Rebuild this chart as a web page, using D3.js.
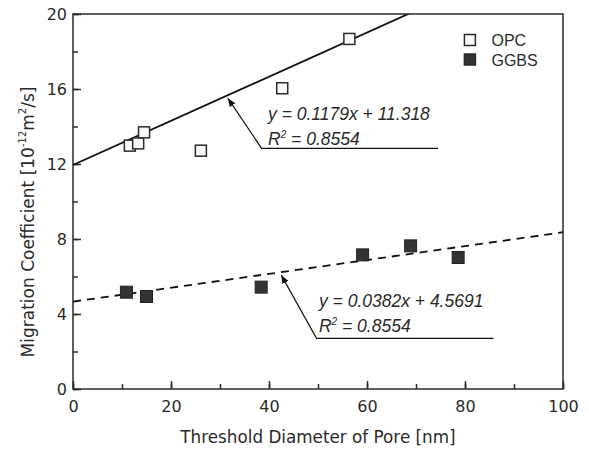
<!DOCTYPE html>
<html>
<head>
<meta charset="utf-8">
<script src="https://cdn.jsdelivr.net/npm/d3@7"></script>
<style>
  body { margin: 0; background: #fff; }
  svg { display: block; }
</style>
</head>
<body>
<div id="wrapper"></div>
<script>
// data
let opcDiameter = [11.6, 13.3, 14.5, 26.1, 42.7, 56.4];
let opcCoefficient = [12.98, 13.1, 13.69, 12.71, 16.04, 18.67];
let ggbsDiameter = [10.8, 14.9, 38.3, 59.0, 68.8, 78.5];
let ggbsCoefficient = [5.19, 4.96, 5.46, 7.18, 7.66, 7.04];

// fitted lines as drawn: [intercept, slope]
let opcFit = [11.95, 0.1177];
let ggbsFit = [4.66, 0.037];

let xTicks = [0, 20, 40, 60, 80, 100];
let yTicks = [0, 4, 8, 12, 16, 20];
let seriesNames = ["OPC", "GGBS"];
let opcLabels = ["y = 0.1179x + 11.318", "0.8554"];
let ggbsLabels = ["y = 0.0382x + 4.5691", "0.8554"];

let dimensions = {
  width: 589,
  height: 455,
  margin: { top: 14, right: 26, bottom: 66, left: 73 }
};

function drawChart() {
  dimensions.boundedWidth =
    dimensions.width - dimensions.margin.left - dimensions.margin.right;
  dimensions.boundedHeight =
    dimensions.height - dimensions.margin.top - dimensions.margin.bottom;

  let ink = "#2a2a2a";

  let wrapper = d3
    .select("#wrapper")
    .append("svg")
    .attr("width", dimensions.width)
    .attr("height", dimensions.height);

  let bounds = wrapper
    .append("g")
    .attr(
      "transform",
      `translate(${dimensions.margin.left}, ${dimensions.margin.top})`
    );

  let xScale = d3
    .scaleLinear()
    .domain([0, 100])
    .range([0, dimensions.boundedWidth]);

  let yScale = d3
    .scaleLinear()
    .domain([0, 20])
    .range([dimensions.boundedHeight, 0]);

  // clip for fit lines
  wrapper
    .append("defs")
    .append("clipPath")
    .attr("id", "plotClip")
    .append("rect")
    .attr("width", dimensions.boundedWidth)
    .attr("height", dimensions.boundedHeight);

  // minor ticks (inward)
  let xAxisGenerator = d3
    .axisBottom(xScale)
    .tickValues(d3.range(0, 101, 10))
    .tickSize(-5)
    .tickFormat("");
  bounds
    .append("g")
    .attr("transform", `translate(0, ${dimensions.boundedHeight})`)
    .call(xAxisGenerator)
    .call(g => g.select(".domain").remove());

  let yMinorGenerator = d3
    .axisLeft(yScale)
    .tickValues(d3.range(0, 21, 2))
    .tickSize(-5)
    .tickFormat("");
  bounds
    .append("g")
    .call(yMinorGenerator)
    .call(g => g.select(".domain").remove());

  // major ticks with labels
  let xMajor = bounds
    .append("g")
    .attr("transform", `translate(0, ${dimensions.boundedHeight})`)
    .call(
      d3.axisBottom(xScale).tickValues(xTicks).tickSize(-8).tickPadding(10)
    )
    .call(g => g.select(".domain").remove());

  let yMajor = bounds
    .append("g")
    .call(
      d3.axisLeft(yScale).tickValues(yTicks).tickSize(-8).tickPadding(10)
    )
    .call(g => g.select(".domain").remove());

  [xMajor, yMajor].forEach(axis => {
    axis
      .selectAll("text")
      .attr("font-family", "DejaVu Sans")
      .attr("font-size", 16)
      .attr("fill", ink);
  });
  yMajor.selectAll("text").attr("dy", "0.36em").attr("x", -6);
  xMajor.selectAll("text").attr("y", 12);

  bounds.selectAll(".tick line").attr("stroke", ink).attr("stroke-width", 1.5);

  // frame
  bounds
    .append("rect")
    .attr("width", dimensions.boundedWidth)
    .attr("height", dimensions.boundedHeight)
    .attr("fill", "none")
    .attr("stroke", ink)
    .attr("stroke-width", 1.5);

  // fit lines
  let lineGen = d3
    .line()
    .x(d => xScale(d[0]))
    .y(d => yScale(d[1]));

  let fitPoints = fit => [
    [0, fit[0]],
    [100, fit[0] + fit[1] * 100]
  ];

  let fits = bounds.append("g").attr("clip-path", "url(#plotClip)");
  fits
    .append("path")
    .attr("d", lineGen(fitPoints(opcFit)))
    .attr("stroke", "#111")
    .attr("stroke-width", 1.8)
    .attr("fill", "none");
  fits
    .append("path")
    .attr("d", lineGen(fitPoints(ggbsFit)))
    .attr("stroke", "#111")
    .attr("stroke-width", 1.8)
    .attr("stroke-dasharray", "8,6")
    .attr("fill", "none");

  // points
  let size = 11;
  bounds
    .append("g")
    .selectAll("rect")
    .data(d3.zip(opcDiameter, opcCoefficient))
    .join("rect")
    .attr("x", d => xScale(d[0]) - size / 2)
    .attr("y", d => yScale(d[1]) - size / 2)
    .attr("width", size)
    .attr("height", size)
    .attr("fill", "#fafafa")
    .attr("stroke", ink)
    .attr("stroke-width", 1.5);

  bounds
    .append("g")
    .selectAll("rect")
    .data(d3.zip(ggbsDiameter, ggbsCoefficient))
    .join("rect")
    .attr("x", d => xScale(d[0]) - size / 2)
    .attr("y", d => yScale(d[1]) - size / 2)
    .attr("width", size + 1)
    .attr("height", size + 1)
    .attr("fill", "#333")
    .attr("stroke", "#222")
    .attr("stroke-width", 1);

  // annotations with leader + arrow
  wrapper
    .append("defs")
    .append("marker")
    .attr("id", "arrowHead")
    .attr("viewBox", "0 0 10 10")
    .attr("refX", 10)
    .attr("refY", 5)
    .attr("markerWidth", 7)
    .attr("markerHeight", 7)
    .attr("orient", "auto")
    .append("path")
    .attr("d", "M0,1 L10,5 L0,9 Z")
    .attr("fill", "#111");

  function annotate(fit, tipX, elbowX, elbowY, endX, labels, textX, textY) {
    let tip = [xScale(tipX), yScale(fit[0] + fit[1] * tipX) + 3];
    let elbow = [xScale(elbowX), yScale(elbowY)];
    let end = [xScale(endX), yScale(elbowY)];
    bounds
      .append("path")
      .attr("d", d3.line()([end, elbow, tip]))
      .attr("stroke", "#111")
      .attr("stroke-width", 1.2)
      .attr("fill", "none")
      .attr("marker-end", "url(#arrowHead)");

    let t = bounds
      .append("g")
      .attr("font-family", "Liberation Sans")
      .attr("font-style", "italic")
      .attr("font-size", 17.5)
      .attr("fill", ink);
    t.append("text")
      .attr("x", xScale(textX))
      .attr("y", yScale(textY))
      .text(labels[0]);
    let r = t
      .append("text")
      .attr("x", xScale(textX))
      .attr("y", yScale(textY) + 25);
    r.append("tspan").text("R");
    r.append("tspan")
      .attr("font-size", 10)
      .attr("dy", -7)
      .text("2");
    r.append("tspan").attr("dy", 7).text(" = " + labels[1]);
  }

  annotate(opcFit, 31.6, 38.5, 12.83, 74.5, opcLabels, 39.8, 14.35);
  annotate(ggbsFit, 42.5, 49.7, 2.7, 85.8, ggbsLabels, 50.2, 4.4);

  // legend
  let legend = bounds
    .append("g")
    .attr("font-family", "Liberation Sans")
    .attr("font-size", 16)
    .attr("fill", ink);
  seriesNames.forEach((name, i) => {
    let y = 26 + i * 19.5;
    legend
      .append("rect")
      .attr("x", xScale(81) - 5.5)
      .attr("y", y - 5.5)
      .attr("width", 11)
      .attr("height", 11)
      .attr("fill", i === 0 ? "#fafafa" : "#333")
      .attr("stroke", ink)
      .attr("stroke-width", 1.5);
    legend
      .append("text")
      .attr("x", xScale(85.4))
      .attr("y", y + 6)
      .text(name);
  });

  // axis titles
  wrapper
    .append("text")
    .attr("x", dimensions.margin.left + dimensions.boundedWidth / 2)
    .attr("y", 443)
    .attr("text-anchor", "middle")
    .attr("font-family", "DejaVu Sans")
    .attr("font-size", 16.8)
    .attr("fill", ink)
    .text("Threshold Diameter of Pore [nm]");

  let yTitle = wrapper
    .append("text")
    .attr("transform", "translate(34, 222) rotate(-90)")
    .attr("text-anchor", "middle")
    .attr("font-family", "DejaVu Sans")
    .attr("font-size", 17)
    .attr("fill", ink);
  yTitle.append("tspan").text("Migration Coefficient [10");
  yTitle.append("tspan").attr("font-size", 10).attr("dy", -8).text("-12");
  yTitle.append("tspan").attr("dy", 8).text("m");
  yTitle.append("tspan").attr("font-size", 10).attr("dy", -8).text("2");
  yTitle.append("tspan").attr("dy", 8).text("/s]");
}

drawChart();
</script>
</body>
</html>
